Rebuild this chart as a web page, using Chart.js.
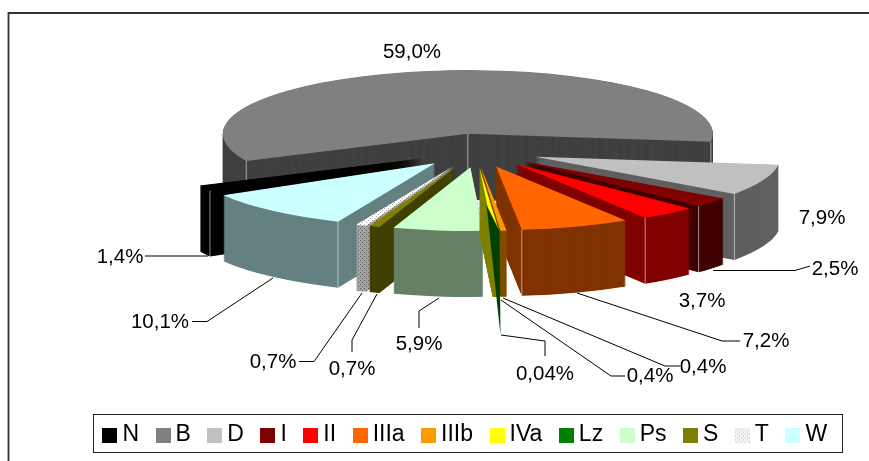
<!DOCTYPE html>
<html>
<head>
<meta charset="utf-8">
<style>html,body{margin:0;padding:0;background:#fff}#w{width:869px;height:461px;position:relative;overflow:hidden}</style>
<script src="https://cdn.jsdelivr.net/npm/chart.js@4/dist/chart.umd.min.js"></script>
</head>
<body>
<div id="w"><canvas id="c" width="869" height="461"></canvas></div>
<script>
const categories = ['N','B','D','I','II','IIIa','IIIb','IVa','Lz','Ps','S','T','W'];
const shares = [1.4,59.0,7.9,2.5,3.7,7.2,0.4,0.4,0.04,5.9,0.7,0.7,10.1];
const shareLabels = ['1,4%','59,0%','7,9%','2,5%','3,7%','7,2%','0,4%','0,4%','0,04%','5,9%','0,7%','0,7%','10,1%'];
const topColors = ['#000000','#808080','#c0c0c0','#800000','#ff0000','#ff6600','#ff9900','#ffff00','#008000','#ccffcc','#808000','dots','#ccffff'];
const wallColors = ['#000000','#404040','#606060','#400000','#800000','#803300','#804d00','#808000','#004000','#668066','#404000','darkdots','#668080'];

function dots(base, dot){
  const p = document.createElement('canvas'); p.width = 4; p.height = 4;
  const g = p.getContext('2d');
  g.fillStyle = base; g.fillRect(0,0,4,4);
  g.fillStyle = dot; g.fillRect(0,0,1,1); g.fillRect(2,2,1,1);
  return p;
}
const pctx = document.getElementById('c').getContext('2d');
const dotsTop = pctx.createPattern(dots('#ffffff','#a8a8a8'),'repeat');
const dotsWall = pctx.createPattern(dots('#a4a4a4','#585858'),'repeat');
const paint = c => c==='dots' ? dotsTop : c==='darkdots' ? dotsWall : c;

function swatch(c){
  const s = document.createElement('canvas'); s.width = 15; s.height = 15;
  const g = s.getContext('2d');
  g.fillStyle = c==='dots' ? g.createPattern(dots('#f4f4f4','#bcbcbc'),'repeat') : c;
  g.fillRect(0,0,15,15);
  return s;
}

const pie3d = {
  id:'pie3d',
  beforeDatasetsDraw(chart, args, o){
    const arcs = chart.getDatasetMeta(0).data.map((a,i)=>({a,i,mid:(a.startAngle+a.endAngle)/2}));
    arcs.sort((p,q)=>Math.sin(p.mid)-Math.sin(q.mid));
    const ctx = chart.ctx;
    for (const {a,i,mid} of arcs){
      const n = o.nudge[i] || [0,0];
      const exX = o.cx+n[0]+o.explode*Math.cos(mid), exY = o.cy+n[1]+o.explode*Math.sin(mid)*o.squash;
      const rimX = t=>exX+a.outerRadius*Math.cos(t), rimY = t=>exY+a.outerRadius*Math.sin(t)*o.squash;
      if (shares[i]<0.1){
        // the hairline slice shows only as a long dark sliver around its rim
        const x=rimX(mid), y=rimY(mid), s=o.sliver;
        ctx.save();
        ctx.fillStyle=wallColors[i];
        ctx.beginPath();
        ctx.moveTo(x+s[0][0],y+s[0][1]);
        ctx.lineTo(x+s[1][0],y+s[1][1]);
        ctx.lineTo(x+s[2][0],y+s[2][1]);
        ctx.closePath(); ctx.fill();
        ctx.restore();
        continue;
      }
      for (let k=o.depth;k>=0;k-=0.5){
        const col = paint(k===0?topColors[i]:wallColors[i]);
        ctx.save();
        ctx.translate(exX, exY+k);
        ctx.scale(1,o.squash);
        ctx.translate(-a.x,-a.y);
        if (typeof col!=='string') col.setTransform(ctx.getTransform().inverse());
        const ghost = Object.create(a);
        ghost.options = Object.assign({},a.options,{backgroundColor:col,borderWidth:0});
        ghost.draw(ctx);
        ctx.restore();
      }
      // pale edge where the cut face meets the rim
      const big = a.circumference>Math.PI;
      const corners = big?[a.startAngle,a.endAngle]:[Math.cos(mid)>0?a.endAngle:a.startAngle];
      ctx.save();
      ctx.strokeStyle = o.edge; ctx.lineWidth = 1;
      const vline=(x,y)=>{ctx.beginPath();ctx.moveTo(x,y);ctx.lineTo(x,y+o.depth);ctx.stroke();};
      if (shares[i]>1) corners.forEach(t=>vline(rimX(t),rimY(t)));
      if (big) vline(exX,exY);
      ctx.restore();
    }
    return false;
  },
  afterDraw(chart, args, o){
    const ctx = chart.ctx;
    ctx.save();
    ctx.strokeStyle='#000'; ctx.lineWidth=1;
    o.leaders.forEach(l=>{
      ctx.beginPath();
      l.forEach((p,j)=>j?ctx.lineTo(p[0],p[1]):ctx.moveTo(p[0],p[1]));
      ctx.stroke();
    });
    ctx.fillStyle='#000'; ctx.font=o.labelFont; ctx.textAlign='center'; ctx.textBaseline='middle';
    shareLabels.forEach((t,i)=>ctx.fillText(t,o.labelAt[i][0],o.labelAt[i][1]));
    ctx.restore();
  },
  beforeDraw(chart, args, o){
    const ctx = chart.ctx;
    ctx.save();
    ctx.strokeStyle='#333'; ctx.lineWidth=1.8;
    ctx.beginPath();
    ctx.moveTo(...o.frame[0]); ctx.lineTo(...o.frame[1]); ctx.lineTo(...o.frame[2]);
    ctx.stroke();
    ctx.strokeStyle='#222'; ctx.lineWidth=1;
    ctx.strokeRect(...o.legendBox);
    ctx.restore();
  }
};

new Chart(document.getElementById('c'),{
  type:'pie',
  data:{labels:categories,datasets:[{data:shares,backgroundColor:topColors.map(paint),borderWidth:0,radius:245}]},
  plugins:[pie3d],
  options:{
    responsive:false,animation:false,rotation:-120.3,
    layout:{padding:{left:67,right:0,top:0,bottom:4.5}},
    plugins:{
      tooltip:{enabled:false},
      legend:{
        display:true,position:'bottom',
        labels:{
          font:{family:'"Liberation Sans",Arial,sans-serif',size:23},color:'#000',
          usePointStyle:true,pointStyleWidth:2,boxHeight:23,padding:23,
          generateLabels:c=>categories.map((t,i)=>({text:t,pointStyle:swatch(topColors[i]),fontColor:'#000',lineWidth:0,strokeStyle:'transparent',fillStyle:'transparent',index:i,hidden:false}))
        }
      },
      pie3d:{
        cx:475,cy:150.5,squash:0.26,explode:65,depth:66,edge:'rgba(255,255,255,0.55)',
        nudge:{0:[4,0],1:[3,0],9:[4,0],10:[3,0],11:[2.5,0],12:[3,0]},
        sliver:[[-5,-26],[8,0],[9,104]],
        frame:[[8.5,461],[8.5,13],[869,13]],legendBox:[93.5,414.5,749,38],
        labelFont:'20.5px "Liberation Sans",Arial,sans-serif',
        labelAt:[[120,257],[412,52],[822,218],[835,269],[702,301],[766,341],[703,367],[650,376],[545,374],[419,344],[273,362],[352,369],[160,322]],
        leaders:[
          [[145,256],[208,256]],
          [[192,321.5],[207,321.5],[273,278]],
          [[299,361.5],[314,361.5],[362,293]],
          [[352,352],[352,340],[377,294]],
          [[419,328],[419,311],[439,298]],
          [[501,335],[545,341],[545,356]],
          [[501,300],[611,376],[625,376]],
          [[503,298],[665,366],[680,366]],
          [[577,293],[722,341],[740,341]],
          [[713,270.5],[795,270.5],[810,266]]
        ]
      }
    }
  }
});
</script>
</body>
</html>
